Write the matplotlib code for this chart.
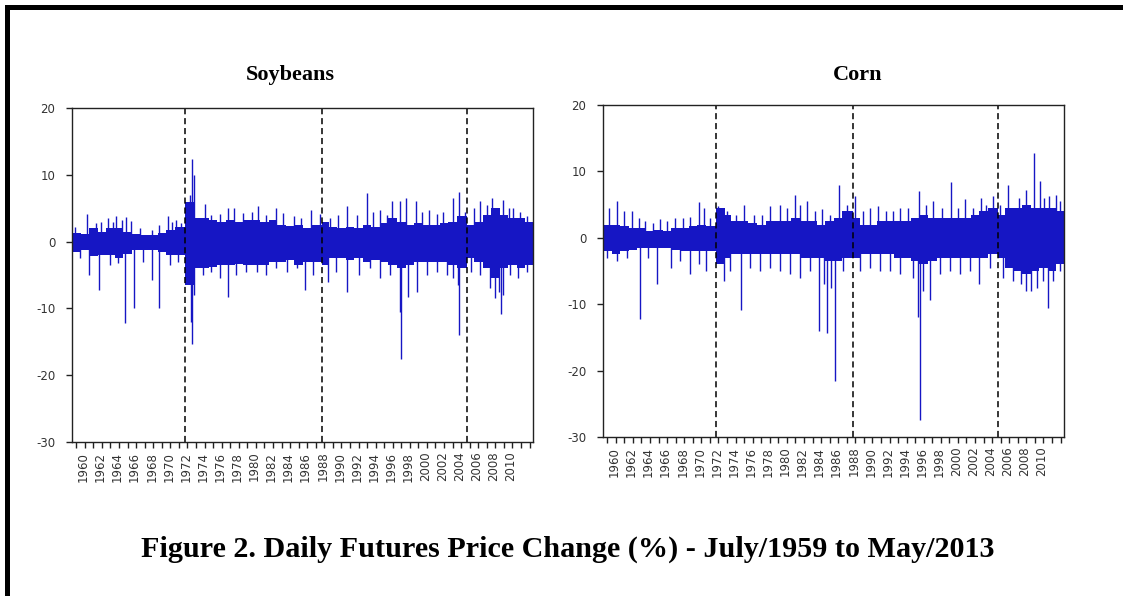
import numpy as np
import matplotlib
matplotlib.use('Agg')
import matplotlib.pyplot as plt
from matplotlib.transforms import ScaledTranslation

# sample span (decimal years) and break dates (dashed lines)
x_start, x_end = 1959.5, 2013.4
breaks = [1972.75, 1988.7, 2005.7]

# dense band: typical upper / lower envelope, step starts
band_years = [1959.5, 1960.5, 1961.5, 1962.5, 1963.5, 1964.5, 1965.5, 1966.5, 1967.5,
              1968.5, 1969.5, 1970.5, 1971.5, 1972.75, 1973.75, 1974.5, 1975.5, 1976.5,
              1977.5, 1978.5, 1979.5, 1980.5, 1981.5, 1982.5, 1983.5, 1984.5, 1985.5,
              1986.5, 1987.5, 1988.7, 1989.5, 1990.5, 1991.5, 1992.5, 1993.5, 1994.5,
              1995.5, 1996.5, 1997.5, 1998.5, 1999.5, 2000.5, 2001.5, 2002.5, 2003.5,
              2004.5, 2005.7, 2006.5, 2007.5, 2008.5, 2009.5, 2010.5, 2011.5, 2012.5]

soy_hi = [1.3, 1.2, 2.0, 1.5, 2.0, 2.0, 1.5, 1.2, 1.0, 1.0, 1.3, 1.8, 2.2, 6.0, 3.5, 3.5,
          3.2, 3.0, 3.2, 3.0, 3.2, 3.3, 3.0, 3.2, 2.5, 2.3, 2.5, 2.0, 2.5, 3.0, 2.2, 2.0,
          2.2, 2.0, 2.5, 2.2, 2.8, 3.5, 3.0, 2.5, 2.8, 2.5, 2.5, 2.8, 3.0, 3.8, 2.5, 3.0,
          4.0, 5.0, 4.0, 3.5, 3.5, 3.0]
soy_lo = [-1.5, -1.3, -2.2, -2.0, -2.0, -2.5, -1.8, -1.2, -1.2, -1.3, -1.5, -2.0, -2.0,
          -6.5, -4.0, -4.0, -3.8, -3.5, -3.5, -3.3, -3.5, -3.5, -3.5, -3.0, -3.0, -2.8,
          -3.5, -3.0, -3.0, -3.5, -2.5, -2.5, -2.8, -2.5, -3.0, -2.8, -3.0, -3.5, -4.0,
          -3.5, -3.0, -3.0, -3.0, -3.0, -3.5, -4.0, -2.5, -3.0, -4.0, -5.5, -4.0, -3.5,
          -4.0, -3.5]

corn_hi = [2.0, 2.0, 1.8, 1.5, 1.5, 1.0, 1.2, 1.0, 1.5, 1.5, 1.8, 2.0, 1.8, 4.5, 3.5, 2.5,
           2.5, 2.2, 2.0, 2.5, 2.5, 2.5, 3.0, 2.5, 2.5, 2.0, 2.5, 3.0, 4.0, 3.0, 2.0, 2.0,
           2.5, 2.5, 2.5, 2.5, 3.0, 3.5, 3.0, 3.0, 3.0, 3.0, 3.0, 3.5, 4.0, 4.5, 3.5, 4.5,
           4.5, 5.0, 4.5, 4.5, 4.5, 4.0]
corn_lo = [-2.0, -2.5, -2.0, -1.8, -1.5, -1.5, -1.5, -1.5, -1.8, -2.0, -2.0, -2.0, -2.0,
           -4.0, -3.0, -2.5, -2.5, -2.5, -2.5, -2.5, -2.5, -2.5, -2.5, -3.0, -3.0, -3.0,
           -3.5, -3.5, -3.0, -3.0, -2.5, -2.5, -2.5, -2.5, -3.0, -3.0, -3.5, -4.0, -3.5,
           -3.0, -3.0, -3.0, -3.0, -3.0, -3.0, -2.5, -3.0, -4.5, -5.0, -5.5, -5.0, -4.5,
           -5.0, -4.0]

# individual large daily moves
soy_spike_years = [1959.8, 1961.3, 1962.3, 1962.9, 1963.7, 1964.3, 1964.7, 1965.4, 1965.8,
                   1966.4, 1967.4, 1968.8, 1969.7, 1970.7, 1971.2, 1971.7, 1972.3, 1973.3,
                   1973.5, 1973.8, 1975.0, 1975.8, 1976.8, 1977.7, 1978.4, 1979.5, 1980.5,
                   1981.3, 1982.2, 1983.4, 1984.2, 1985.4, 1986.3, 1987.5, 1988.5, 1989.7,
                   1990.6, 1991.7, 1992.8, 1994.0, 1994.7, 1995.5, 1996.3, 1996.9, 1997.9,
                   1998.6, 1999.7, 2000.4, 2001.2, 2002.2, 2002.9, 2004.0, 2004.8, 2005.5,
                   2006.5, 2007.2, 2008.0, 2008.6, 2009.9, 2010.6, 2011.1, 2011.9, 2012.7,
                   1960.4, 1961.5, 1962.7, 1963.9, 1964.9, 1965.75, 1966.7, 1967.8, 1968.8,
                   1969.7, 1970.9, 1971.9, 1972.9, 1973.4, 1973.5, 1973.8, 1974.8, 1975.8,
                   1976.8, 1977.7, 1978.7, 1979.9, 1981.1, 1982.2, 1983.4, 1984.6, 1985.75,
                   1986.7, 1987.7, 1989.4, 1990.4, 1991.6, 1993.0, 1994.3, 1995.5, 1996.7,
                   1997.8, 1997.95, 1998.75, 1999.8, 2001.0, 2002.2, 2003.3, 2004.1, 2004.6,
                   2004.8, 2006.1, 2007.2, 2008.4, 2009.0, 2009.4, 2009.7, 2009.9, 2010.75,
                   2011.7, 2012.7]
soy_spike_vals = [2.2, 4.1, 2.8, 3.0, 3.6, 3.0, 3.8, 3.2, 3.7, 3.1, 2.0, 1.8, 2.5, 3.8, 3.0,
                  3.3, 2.8, 7.0, 12.3, 10.0, 5.7, 4.0, 4.2, 5.1, 5.0, 4.3, 4.5, 5.4, 4.0, 5.1,
                  4.3, 3.8, 3.5, 4.8, 4.1, 3.5, 4.0, 5.3, 4.0, 7.3, 4.5, 4.8, 4.0, 6.1, 6.1,
                  6.6, 6.1, 4.5, 4.8, 4.2, 4.5, 6.6, 7.5, 4.5, 5.0, 6.1, 5.5, 6.5, 6.2, 5.0,
                  5.1, 4.5, 3.8,
                  -2.5, -5.0, -7.3, -3.5, -3.2, -12.2, -10.0, -3.0, -5.8, -10.0, -3.5, -3.0,
                  -5.0, -12.0, -15.3, -8.0, -5.0, -4.5, -5.5, -8.3, -5.0, -4.5, -4.5, -5.0,
                  -4.0, -4.5, -4.0, -7.3, -5.0, -6.0, -4.5, -7.5, -5.0, -4.0, -5.5, -5.0,
                  -10.5, -17.5, -8.3, -7.5, -5.0, -4.5, -5.0, -5.5, -6.5, -14.0, -4.5, -5.0,
                  -7.0, -8.5, -7.5, -10.8, -8.0, -5.0, -5.5, -4.5]

corn_spike_years = [1960.2, 1961.1, 1961.9, 1962.9, 1963.7, 1964.4, 1965.4, 1966.2, 1967.0,
                    1967.9, 1968.9, 1969.7, 1970.7, 1971.3, 1972.0, 1972.9, 1974.0, 1975.1,
                    1976.0, 1977.1, 1978.1, 1979.0, 1980.2, 1981.0, 1981.95, 1982.5, 1983.4,
                    1984.3, 1985.1, 1986.0, 1987.1, 1988.0, 1989.0, 1989.9, 1990.7, 1991.7,
                    1992.6, 1993.4, 1994.2, 1995.2, 1996.5, 1997.3, 1998.1, 1999.1, 2000.2,
                    2001.0, 2001.8, 2002.8, 2003.7, 2004.3, 2005.1, 2005.9, 2006.85, 2008.1,
                    2009.0, 2009.85, 2010.55, 2011.1, 2011.6, 2012.5, 2012.9,
                    1960.0, 1961.1, 1962.3, 1963.85, 1964.8, 1965.8, 1967.4, 1968.5, 1969.7,
                    1970.7, 1971.6, 1973.6, 1974.4, 1975.6, 1976.7, 1977.9, 1979.0, 1980.2,
                    1981.4, 1982.5, 1983.7, 1984.7, 1985.3, 1985.65, 1986.2, 1986.6, 1987.6,
                    1989.5, 1990.7, 1991.9, 1993.0, 1994.2, 1995.8, 1996.35, 1996.6, 1996.9,
                    1997.7, 1998.9, 2000.05, 2001.2, 2002.4, 2003.5, 2004.7, 2006.3, 2007.4,
                    2008.4, 2009.0, 2009.6, 2010.25, 2010.95, 2011.5, 2012.1, 2012.9]
corn_spike_vals = [4.5, 5.6, 4.0, 4.0, 3.0, 2.5, 2.2, 2.8, 2.5, 3.0, 3.0, 3.2, 5.4, 4.5, 3.0,
                   4.8, 4.0, 3.5, 5.0, 3.5, 3.5, 4.8, 5.0, 4.5, 6.5, 5.0, 5.6, 4.0, 4.4, 3.5,
                   7.9, 5.0, 6.3, 4.0, 4.5, 4.8, 4.0, 4.0, 4.5, 4.5, 7.0, 5.0, 5.5, 4.5, 8.4,
                   4.5, 5.8, 4.5, 6.0, 5.0, 6.3, 5.0, 8.0, 6.0, 7.2, 12.8, 8.6, 6.0, 6.3, 6.5,
                   5.5,
                   -3.0, -3.5, -3.0, -12.3, -3.0, -7.0, -4.5, -3.5, -5.5, -4.0, -5.0, -6.5,
                   -5.0, -10.8, -4.5, -5.0, -4.5, -5.0, -5.5, -6.0, -5.0, -14.0, -7.0, -14.3,
                   -7.5, -21.5, -5.0, -5.0, -4.5, -5.0, -5.0, -5.5, -6.0, -12.0, -27.5, -8.0,
                   -9.3, -5.5, -5.0, -5.5, -5.0, -7.0, -4.5, -6.0, -6.5, -7.0, -8.0, -8.0,
                   -7.5, -6.5, -10.5, -6.5, -5.0]

tick_years = list(range(1960, 2014))
label_years = list(range(1960, 2011, 2))
y_ticks = [-30, -20, -10, 0, 10, 20]

blue = '#1616c4'
grey = '#333333'


def draw_panel(fig, ax, hi, lo, spike_years, spike_vals):
    edges = band_years + [x_end]
    ax.fill_between(edges, hi + hi[-1:], lo + lo[-1:], step='post', color=blue, lw=0)
    ax.vlines(spike_years, 0, spike_vals, color=blue, lw=1.0)
    for b in breaks:
        ax.axvline(b, color='black', ls=(0, (4, 2.5)), lw=1.1)

    ax.set_xlim(x_start, x_end)
    ax.set_ylim(-30, 20)
    ax.set_yticks(y_ticks)
    ax.set_yticklabels([str(v) for v in y_ticks])
    ax.set_xticks(tick_years)
    ax.set_xticklabels([str(y) if y in label_years else '' for y in tick_years], rotation=90)

    ax.tick_params(direction='out', length=4, width=1, color='#222222',
                   labelsize=8.5, labelcolor=grey, pad=3)
    ax.tick_params(axis='y', pad=8)
    for s in ax.spines.values():
        s.set_color('#222222')
        s.set_linewidth(1.0)

    # year labels sit just right of their tick
    shift = ScaledTranslation(0.07, 0, fig.dpi_scale_trans)
    for lbl in ax.get_xticklabels():
        lbl.set_transform(lbl.get_transform() + shift)


fig = plt.figure(figsize=(11.23, 5.96), dpi=100)
fig.patch.set_facecolor('white')

ax1 = fig.add_axes([72 / 1123, 1 - 442 / 596, 461 / 1123, 334 / 596])
ax2 = fig.add_axes([603 / 1123, 1 - 437 / 596, 461 / 1123, 332 / 596])

draw_panel(fig, ax1, soy_hi, soy_lo, soy_spike_years, soy_spike_vals)
draw_panel(fig, ax2, corn_hi, corn_lo, corn_spike_years, corn_spike_vals)

fig.text(290 / 1123, 1 - 75 / 596, 'Soybeans', ha='center', va='center',
         family='Liberation Serif', weight='bold', fontsize=16)
fig.text(858 / 1123, 1 - 75 / 596, 'Corn', ha='center', va='center',
         family='Liberation Serif', weight='bold', fontsize=16)
fig.text(568 / 1123, 1 - 549 / 596,
         'Figure 2. Daily Futures Price Change (%) - July/1959 to May/2013',
         ha='center', va='center', family='Liberation Serif', weight='bold', fontsize=21.7)

# page frame: thick left and top rules
fig.add_artist(plt.Rectangle((5 / 1123, 0), 5 / 1123, 591 / 596,
                             transform=fig.transFigure, color='black', lw=0))
fig.add_artist(plt.Rectangle((5 / 1123, 1 - 10 / 596), 1118 / 1123, 5 / 596,
                             transform=fig.transFigure, color='black', lw=0))

fig.savefig('out.png', dpi=100)
